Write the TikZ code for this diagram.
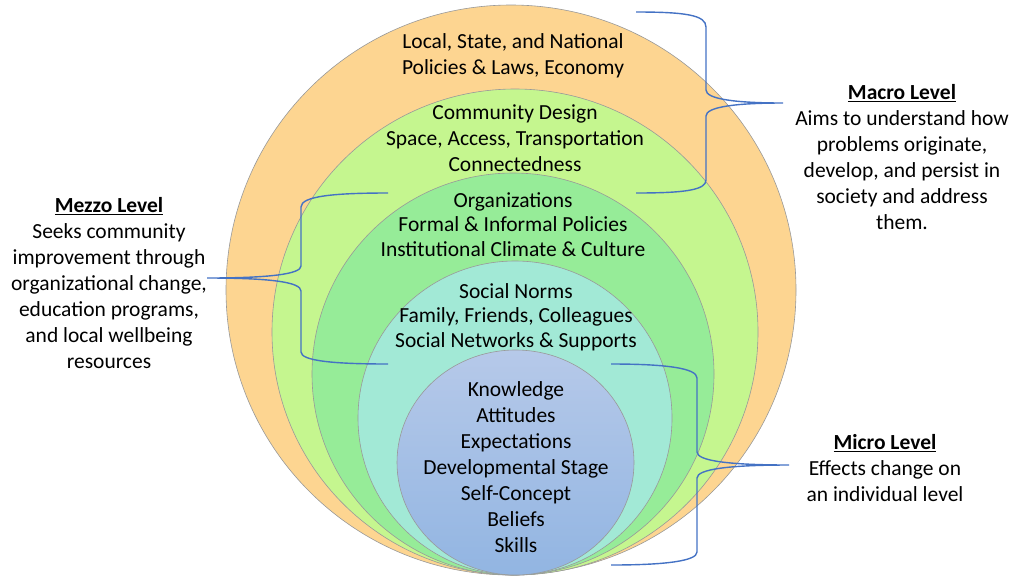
\documentclass[tikz,border=0pt]{standalone}
\usepackage{fontspec}
\setmainfont{Carlito}
\usetikzlibrary{shapes.geometric}
\definecolor{policyorange}{RGB}{253,213,145}
\definecolor{communitygreen}{RGB}{197,246,143}
\definecolor{orggreen}{RGB}{150,236,152}
\definecolor{peercyan}{RGB}{162,233,214}
\definecolor{selftop}{RGB}{182,201,233}
\definecolor{selfbottom}{RGB}{146,181,226}
\definecolor{braceblue}{RGB}{68,114,196}

\begin{document}
\begin{tikzpicture}[x=1pt, y=-1pt,
    ring/.style={circle, draw=gray!80, line width=0.6pt, inner sep=0pt},
    txt/.style={align=center, inner sep=0pt, font=\fontsize{21.5}{26}\selectfont},
    tighttxt/.style={txt, font=\fontsize{21.5}{24.7}\selectfont},
    brace/.style={draw=braceblue, line width=1.4pt}
]
    \useasboundingbox (0,0) rectangle (1024,582);

    % nested levels, outermost first
    \node[ring, fill=policyorange, minimum size=570pt] (policy) at (511,290) {};
    \node[ring, fill=communitygreen, minimum size=486pt] (community) at (515,332) {};
    \node[ring, fill=orggreen, minimum size=402pt] (org) at (513,374) {};
    \node[ring, fill=peercyan, minimum size=314pt] (peer) at (515,418) {};
    \node[ellipse, draw=gray!80, line width=0.6pt, inner sep=0pt, top color=selftop, bottom color=selfbottom,
          minimum width=237pt, minimum height=225pt] (self) at (515.5,462.5) {};

    \node[txt] (policytxt) at (513,56) {Local, State, and National\\Policies \& Laws, Economy};
    \node[txt] (communitytxt) at (515,138.5) {Community Design\\Space, Access, Transportation\\Connectedness};
    \node[tighttxt] (orgtxt) at (513,224.5) {Organizations\\Formal \& Informal Policies\\Institutional Climate \& Culture};
    \node[tighttxt] (peertxt) at (516,317) {Social Norms\\Family, Friends, Colleagues\\Social Networks \& Supports};
    \node[txt] (selftxt) at (516,467) {Knowledge\\Attitudes\\Expectations\\Developmental Stage\\Self-Concept\\Beliefs\\Skills};

    % level descriptions
    \node[txt] (macro) at (902,157) {\underline{\textbf{Macro Level}}\\Aims to understand how\\problems originate,\\develop, and persist in\\society and address\\them.};
    \node[txt] (mezzo) at (109,283) {\underline{\textbf{Mezzo Level}}\\Seeks community\\improvement through\\organizational change,\\education programs,\\and local wellbeing\\resources};
    \node[txt] (micro) at (885,468) {\underline{\textbf{Micro Level}}\\Effects change on\\an individual level};

    % braces
    \coordinate (macro-a) at (636,12);
    \coordinate (macro-b) at (636,193);
    \coordinate (macro-tip) at (783,103);
    \coordinate (mezzo-a) at (388,193);
    \coordinate (mezzo-b) at (388,364);
    \coordinate (mezzo-tip) at (207,278);
    \coordinate (micro-a) at (611,364);
    \coordinate (micro-b) at (611,565);
    \coordinate (micro-tip) at (789,465);

    \draw[brace] (macro-a) .. controls (685,12) and (706,15) .. (706,27) -- (706,90)
        .. controls (706,99) and (735,103) .. (macro-tip)
        .. controls (735,103) and (706,107) .. (706,116) -- (706,180)
        .. controls (706,190) and (685,193) .. (macro-b);
    \draw[brace] (mezzo-a) .. controls (335,193) and (301,196) .. (301,207) -- (301,266)
        .. controls (301,274) and (270,278) .. (mezzo-tip)
        .. controls (270,278) and (301,282) .. (301,291) -- (301,352)
        .. controls (301,361) and (335,364) .. (mezzo-b);
    \draw[brace] (micro-a) .. controls (665,364) and (697,368) .. (697,378) -- (697,452)
        .. controls (697,461) and (730,465) .. (micro-tip)
        .. controls (730,465) and (697,469) .. (697,478) -- (697,552)
        .. controls (697,561) and (665,565) .. (micro-b);
\end{tikzpicture}
\end{document}
